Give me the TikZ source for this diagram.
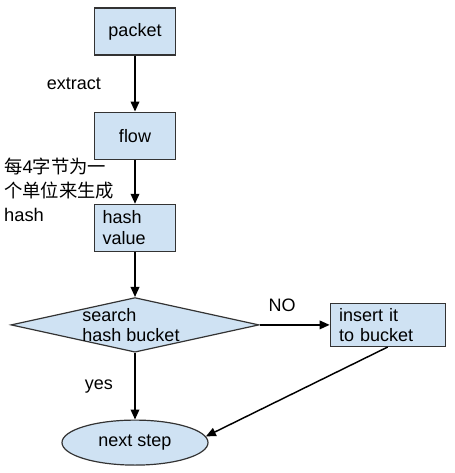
\documentclass[tikz,border=0pt]{standalone}
\usepackage{fontspec}
\setmainfont{Liberation Sans}
\newfontfamily\cjk{Noto Sans CJK SC}
\usetikzlibrary{shapes.geometric,arrows.meta,positioning,calc}
\definecolor{boxblue}{HTML}{CFE2F3}
\definecolor{edgegray}{HTML}{333333}

\begin{document}
\begin{tikzpicture}[
    font=\fontsize{13.5pt}{15.5pt}\selectfont,
    box/.style={draw=edgegray, line width=0.9pt, fill=boxblue, text width=48.75pt, minimum height=35.25pt, inner xsep=6pt, inner ysep=0pt, align=center},
    decision/.style={diamond, draw=edgegray, line width=0.9pt, fill=boxblue, minimum width=186pt, minimum height=41pt, inner sep=0pt},
    terminal/.style={ellipse, draw=edgegray, line width=0.9pt, fill=boxblue, minimum width=109.5pt, minimum height=33.75pt, inner sep=0pt},
    arrow/.style={line width=1.1pt, -{Triangle[length=7.5pt,width=6.5pt]}},
    lbl/.style={inner sep=0pt, align=left}
]
\useasboundingbox (0,0) rectangle (340.5pt,-354.75pt);

% main chain
\node[box] (packet) at (101.25pt,-23.6pt) {packet};
\node[box, below=42pt of packet] (flow) {flow};
\node[box, below=33pt of flow, align=left] (hashval) {hash\\value};
\node[decision, below=33.75pt of hashval] (search) {};
\node[lbl] (searchtxt) at ($(search.center)+(-3pt,0)$) {search\\hash bucket};
\node[box, right=52.5pt of search, text width=72.75pt, inner xsep=6.75pt, minimum height=32.25pt, align=left] (insert) {insert it\\to bucket};
\node[terminal, below=50pt of search] (nextstep) {next step};

% side note
\node[lbl, anchor=north west, font=\fontsize{13.75pt}{18pt}\selectfont] (hashnote) at ($(flow.south west)+(-67.5pt,1.5pt)$) {{\cjk 每}4{\cjk 字节为一}\\{\cjk 个单位来生成}\\hash};

% arrows
\draw[arrow] (packet) -- node[lbl, left=25pt] (extractlbl) {extract} (flow);
\draw[arrow] (flow) -- (hashval);
\draw[arrow] (hashval) -- (search);
\draw[arrow] (search) -- node[lbl, pos=0.32, above=9pt] (nolbl) {NO} (insert);
\draw[arrow] (search) -- node[lbl, left=16pt] (yeslbl) {yes} (nextstep);
\draw[arrow] (insert.south) -- (nextstep.5);

\end{tikzpicture}
\end{document}
